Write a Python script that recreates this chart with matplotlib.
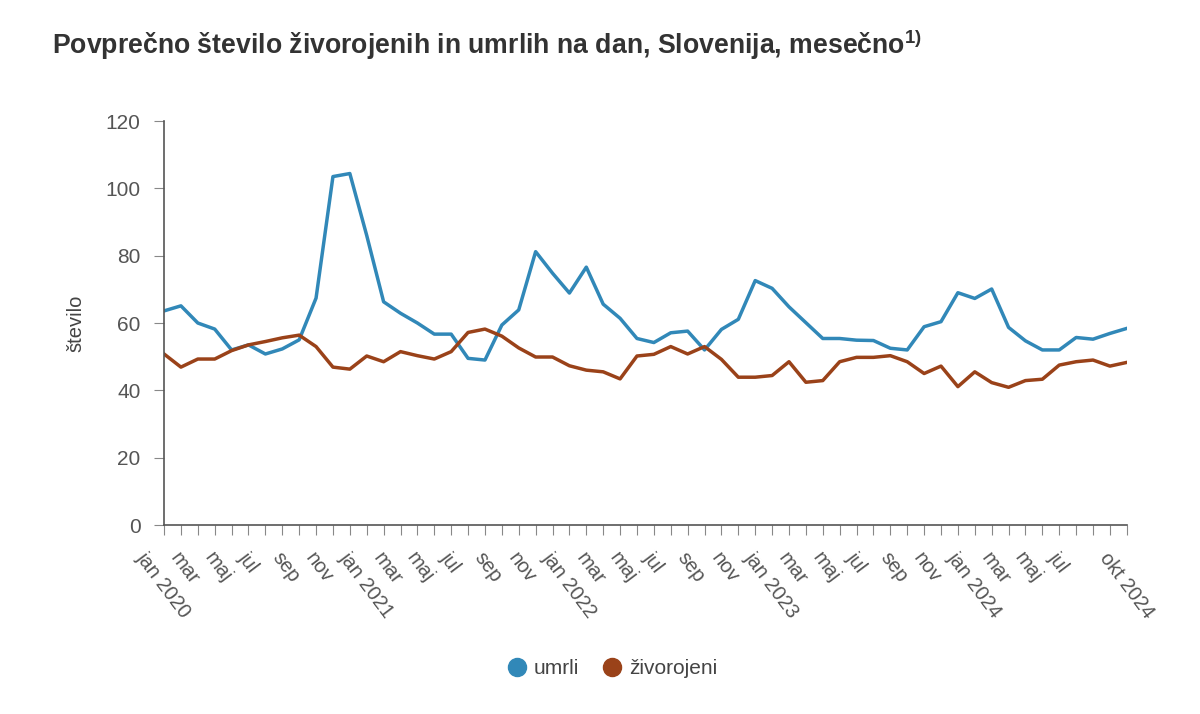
import matplotlib
matplotlib.use("Agg")
import matplotlib.pyplot as plt
import matplotlib.transforms as mtransforms
from matplotlib.lines import Line2D

plt.rcParams['font.family'] = ['Liberation Sans', 'DejaVu Sans']
plt.rcParams['mathtext.default'] = 'regular'

# mesečni podatki jan 2020 - okt 2024
meseci = ['jan', 'feb', 'mar', 'apr', 'maj', 'jun', 'jul', 'avg', 'sep', 'okt', 'nov', 'dec']
leta = [2020, 2021, 2022, 2023, 2024]

umrli = [63.6, 65.1, 60.0, 58.2, 52.0, 53.5, 50.8, 52.3, 55.0, 67.4, 103.5, 104.4,
         86.0, 66.3, 62.9, 60.0, 56.7, 56.7, 49.5, 49.0, 59.4, 63.9, 81.2, 74.8,
         68.9, 76.6, 65.6, 61.4, 55.4, 54.2, 57.1, 57.6, 52.0, 58.1, 61.1, 72.6,
         70.3, 64.8, 60.1, 55.4, 55.4, 54.9, 54.8, 52.5, 52.0, 58.9, 60.4, 69.0,
         67.3, 70.1, 58.7, 54.7, 52.0, 52.0, 55.7, 55.2, 56.9, 58.4]

zivorojeni = [50.8, 46.9, 49.3, 49.3, 51.8, 53.5, 54.5, 55.6, 56.4, 53.0, 46.9, 46.3,
              50.2, 48.5, 51.5, 50.3, 49.3, 51.5, 57.2, 58.2, 56.1, 52.6, 49.9, 49.9,
              47.3, 46.0, 45.5, 43.4, 50.2, 50.7, 53.0, 50.8, 53.0, 49.2, 43.9, 43.9,
              44.4, 48.5, 42.4, 42.9, 48.5, 49.8, 49.8, 50.3, 48.5, 45.0, 47.2, 41.1,
              45.5, 42.3, 40.9, 42.9, 43.3, 47.5, 48.5, 49.0, 47.2, 48.3]

n = len(umrli)
x = list(range(n))

# oznake: vsak drugi mesec, januar z letnico, zadnja točka (okt 2024);
# sep 2024 izpade, ker bi se prekrival z zadnjo oznako
labels = []
label_pos = []
for i in range(n):
    m = i % 12
    y = leta[i // 12]
    if i == n - 1:
        labels.append('%s %d' % (meseci[m], y))
        label_pos.append(i)
    elif i % 2 == 0 and i != n - 2:
        if m == 0:
            labels.append('%s %d' % (meseci[m], y))
        else:
            labels.append(meseci[m])
        label_pos.append(i)

c_umrli = '#3188b8'
c_ziv = '#9a4219'
grey = '#555555'

fig = plt.figure(figsize=(12, 7.14), dpi=100)
ax = fig.add_axes([0.1367, 0.2647, 0.8023, 0.5658])

ax.plot(x, umrli, color=c_umrli, lw=2.5, solid_joinstyle='round')
ax.plot(x, zivorojeni, color=c_ziv, lw=2.5, solid_joinstyle='round')

ax.set_xlim(0, n - 1)
ax.set_ylim(0, 120)
ax.set_yticks(range(0, 121, 20))
ax.set_xticks(x)
ax.set_xticklabels([])

# poševne oznake meseca
trans = ax.get_xaxis_transform() + mtransforms.ScaledTranslation(-16 / 100, -24 / 100, fig.dpi_scale_trans)
for p, lab in zip(label_pos, labels):
    ax.text(p, 0, lab, transform=trans, rotation=-53, ha='left', va='top',
            rotation_mode='anchor', fontsize=14.5, color=grey, clip_on=False)

ax.tick_params(axis='both', colors='#888888', labelcolor=grey, labelsize=15)
ax.tick_params(axis='x', length=7, width=0.8)
ax.tick_params(axis='y', length=7, width=0.8, pad=10)

for s in ['top', 'right']:
    ax.spines[s].set_visible(False)
for s in ['left', 'bottom']:
    ax.spines[s].set_color(grey)
    ax.spines[s].set_linewidth(1.2)

ax.set_ylabel('število', color='#444444', fontsize=14.5, labelpad=14)

fig.text(0.043, 0.937, 'Povprečno število živorojenih in umrlih na dan, Slovenija, mesečno$^{1)}$',
         fontsize=19.2, fontweight='bold', color='#333333', va='center', ha='left')

handles = [Line2D([], [], ls='none', marker='o', ms=13, color=c_umrli),
           Line2D([], [], ls='none', marker='o', ms=13, color=c_ziv)]
fig.legend(handles, ['umrli', 'živorojeni'], loc='center', bbox_to_anchor=(0.510, 0.064),
           ncol=2, frameon=False, fontsize=15, handlelength=1.0, handletextpad=0.3,
           columnspacing=1.1, labelcolor='#444444')

fig.savefig('out.png', dpi=100)
